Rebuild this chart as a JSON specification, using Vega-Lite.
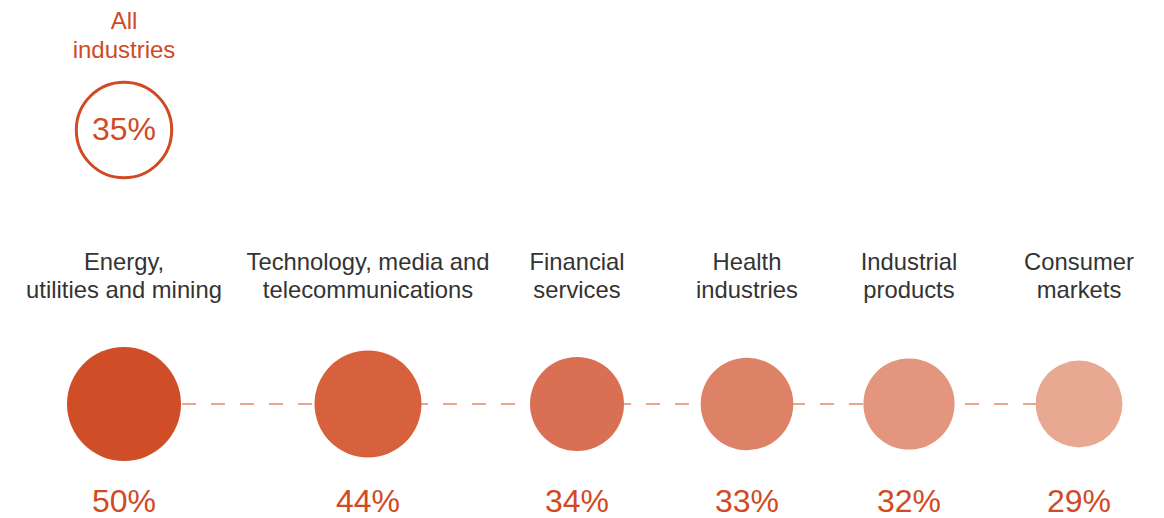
{
  "$schema": "https://vega.github.io/schema/vega-lite/v6.json",
  "width": 1164,
  "height": 518,
  "autosize": {"type": "fit", "contains": "padding"},
  "padding": 0,
  "background": "white",
  "config": {"view": {"stroke": null}, "font": "Liberation Sans"},
  "datasets": {
    "industries": [
      {"industry": "Energy, utilities and mining", "label": "Energy,\nutilities and mining", "rank": 0, "share": 0.50},
      {"industry": "Technology, media and telecommunications", "label": "Technology, media and\ntelecommunications", "rank": 1, "share": 0.44},
      {"industry": "Financial services", "label": "Financial\nservices", "rank": 2, "share": 0.34},
      {"industry": "Health industries", "label": "Health\nindustries", "rank": 3, "share": 0.33},
      {"industry": "Industrial products", "label": "Industrial\nproducts", "rank": 4, "share": 0.32},
      {"industry": "Consumer markets", "label": "Consumer\nmarkets", "rank": 5, "share": 0.29}
    ],
    "total": [
      {"industry": "All industries", "label": "All\nindustries", "rank": 0, "share": 0.35}
    ]
  },
  "encoding": {
    "x": {"field": "rank", "type": "quantitative", "axis": null,
          "scale": {"domain": [0, 1, 2, 3, 4, 5], "range": [124, 368, 577, 747, 909, 1079], "zero": false, "nice": false}}
  },
  "layer": [
    {
      "data": {"name": "industries"},
      "mark": {"type": "line", "stroke": "#E2886A", "strokeWidth": 1.6, "strokeDash": [14, 15]},
      "encoding": {
        "y": {"datum": 3, "type": "quantitative", "axis": null,
              "scale": {"domain": [0, 1, 2, 3, 4], "range": [21.5, 130, 263, 404, 502], "zero": false, "nice": false}}
      }
    },
    {
      "data": {"name": "industries"},
      "mark": {"type": "circle", "opacity": 1},
      "encoding": {
        "y": {"datum": 3, "type": "quantitative"},
        "size": {"field": "share", "type": "quantitative", "legend": null,
                 "scale": {"domain": [0, 0.5], "range": [0, 12996], "zero": true}},
        "color": {"field": "industry", "type": "nominal", "legend": null,
                  "scale": {"domain": ["Energy, utilities and mining", "Technology, media and telecommunications", "Financial services", "Health industries", "Industrial products", "Consumer markets"],
                            "range": ["#CF4E27", "#D6613C", "#DA7053", "#DE8267", "#E3957D", "#E8A892"]}}
      }
    },
    {
      "data": {"name": "industries"},
      "mark": {"type": "text", "fontSize": 23.8, "color": "#333333", "baseline": "middle", "align": "center", "lineBreak": "\n", "lineHeight": 28},
      "encoding": {
        "y": {"datum": 2, "type": "quantitative"},
        "text": {"field": "label"}
      }
    },
    {
      "data": {"name": "industries"},
      "mark": {"type": "text", "fontSize": 32, "color": "#D04A23", "baseline": "middle", "align": "center"},
      "encoding": {
        "y": {"datum": 4, "type": "quantitative"},
        "text": {"field": "share", "type": "quantitative", "format": ".0%"}
      }
    },
    {
      "data": {"name": "total"},
      "mark": {"type": "point", "shape": "circle", "filled": false, "stroke": "#D04A23", "strokeWidth": 3, "opacity": 1},
      "encoding": {
        "y": {"datum": 1, "type": "quantitative"},
        "size": {"field": "share", "type": "quantitative"}
      }
    },
    {
      "data": {"name": "total"},
      "mark": {"type": "text", "fontSize": 32, "color": "#D04A23", "baseline": "middle", "align": "center"},
      "encoding": {
        "y": {"datum": 1, "type": "quantitative"},
        "text": {"field": "share", "type": "quantitative", "format": ".0%"}
      }
    },
    {
      "data": {"name": "total"},
      "mark": {"type": "text", "fontSize": 24, "color": "#D04A23", "baseline": "middle", "align": "center", "lineBreak": "\n", "lineHeight": 29},
      "encoding": {
        "y": {"datum": 0, "type": "quantitative"},
        "text": {"field": "label"}
      }
    }
  ]
}
